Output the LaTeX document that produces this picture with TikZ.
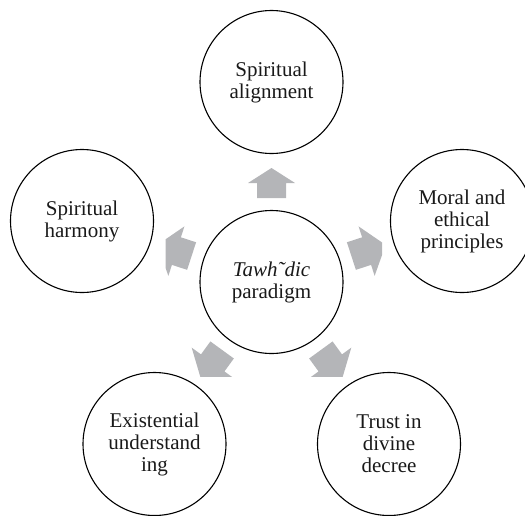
\documentclass[tikz,border=0pt]{standalone}
\usepackage{fontspec}
\setmainfont{Liberation Serif}
\definecolor{arrowgray}{RGB}{180,181,184}
\begin{document}
\begin{tikzpicture}[x=1pt,y=1pt,
  circ/.style={circle, draw=black, line width=1.1pt, minimum size=143pt, inner sep=0pt,
    align=center, font=\fontsize{21}{22}\selectfont, text=black!90},
  garrow/.style={fill=arrowgray, draw=none}]
\useasboundingbox (0,0) rectangle (525,-515);
\node[circ] (C) at (271.5,-282) {\textit{Tawh˜dic}\\paradigm};
\node[circ] (T) at (271.5,-82) {Spiritual\\alignment};
\node[circ] (R) at (462,-221) {Moral and\\ethical\\principles};
\node[circ] (L) at (82,-221) {Spiritual\\harmony};
\node[circ] (BL) at (154.5,-444) {Existential\\understand\\ing};
\node[circ] (BR) at (389,-444) {Trust in\\divine\\decree};
% top arrow
\fill[garrow, shift={(C.center)}, rotate=90]
  (84,-14.5) -- (99,-14.5) -- (99,-23.5) -- (114,0) -- (99,23.5) -- (99,14.5) -- (84,14.5) -- cycle;
% right arrow
\begin{scope}
\clip (0,0) rectangle (382,-515);
\fill[garrow, shift={(C.center)}, rotate=18]
  (84,-14.5) -- (100,-14.5) -- (100,-26) -- (120,0) -- (100,26) -- (100,14.5) -- (84,14.5) -- cycle;
\end{scope}
% left arrow
\begin{scope}
\clip (165.7,0) rectangle (525,-515);
\fill[garrow, shift={(C.center)}, rotate=162]
  (84,-14.5) -- (100,-14.5) -- (100,-26) -- (120,0) -- (100,26) -- (100,14.5) -- (84,14.5) -- cycle;
\end{scope}
% bottom arrows
\begin{scope}
\clip (0,0) rectangle (525,-376.7);
\fill[garrow, shift={(C.center)}, rotate=234]
  (84,-14.5) -- (100,-14.5) -- (100,-26) -- (120,0) -- (100,26) -- (100,14.5) -- (84,14.5) -- cycle;
\fill[garrow, shift={(C.center)}, rotate=306]
  (84,-14.5) -- (100,-14.5) -- (100,-26) -- (120,0) -- (100,26) -- (100,14.5) -- (84,14.5) -- cycle;
\end{scope}
\end{tikzpicture}
\end{document}
